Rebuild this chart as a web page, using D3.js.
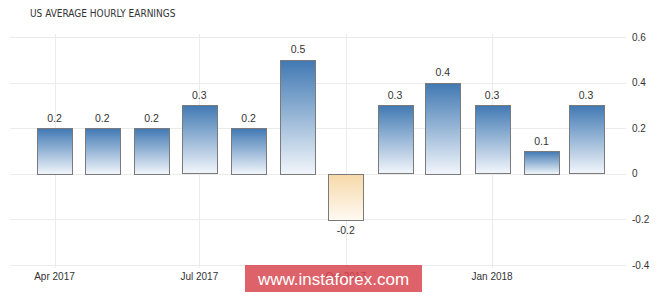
<!DOCTYPE html>
<html><head><meta charset="utf-8">
<script src="https://cdn.jsdelivr.net/npm/d3@7"></script>
<style>body{margin:0;background:#fff;}svg{display:block;}</style>
</head><body>
<script>
const title = "US AVERAGE HOURLY EARNINGS";
const months = ["2017-04","2017-05","2017-06","2017-07","2017-08","2017-09","2017-10","2017-11","2017-12","2018-01","2018-02","2018-03"];
const values = [0.2,0.2,0.2,0.3,0.2,0.5,-0.2,0.3,0.4,0.3,0.1,0.3];
const xTickLabels = ["2017-04","2017-07","2017-10","2018-01"];
const yTicks = [-0.4,-0.2,0,0.2,0.4,0.6];

const W=665,H=296;
const parse=d3.timeParse("%Y-%m");
const svg=d3.select("body").append("svg").attr("width",W).attr("height",H);
const defs=svg.append("defs");
const gb=defs.append("linearGradient").attr("id","gBlue").attr("x1",0).attr("y1",0).attr("x2",0).attr("y2",1);
gb.append("stop").attr("offset","0%").attr("stop-color","#4179b3");
gb.append("stop").attr("offset","100%").attr("stop-color","#f2f6fb");
const go=defs.append("linearGradient").attr("id","gOrange").attr("x1",0).attr("y1",0).attr("x2",0).attr("y2",1);
go.append("stop").attr("offset","0%").attr("stop-color","#f6d9a9");
go.append("stop").attr("offset","100%").attr("stop-color","#fffaf3");

const x=d3.scaleTime().domain([parse("2017-04"),parse("2018-03")]).range([54.5,586]);
const y=d3.scaleLinear().domain([-0.4,0.6]).range([265,37]);
const left=10,right=626;
const num=d=>String(d);

// grid
svg.append("g").selectAll("line").data(yTicks).join("line")
 .attr("x1",left).attr("x2",right).attr("y1",d=>Math.round(y(d))+0.5).attr("y2",d=>Math.round(y(d))+0.5)
 .attr("stroke","#ebebeb").attr("stroke-width",1);
svg.append("g").selectAll("line").data(xTickLabels).join("line")
 .attr("x1",d=>Math.round(x(parse(d)))+0.5).attr("x2",d=>Math.round(x(parse(d)))+0.5)
 .attr("y1",34).attr("y2",268).attr("stroke","#ebebeb");

// y labels
svg.append("g").selectAll("text").data(yTicks).join("text")
 .attr("x",632).attr("y",d=>y(d)).attr("dy","0.35em")
 .attr("font-family","Liberation Sans, Arial, sans-serif").attr("font-size",10).attr("fill","#333")
 .text(num);

// x labels
const fmt=d3.timeFormat("%b %Y");
svg.append("g").selectAll("text").data(xTickLabels).join("text")
 .attr("x",d=>x(parse(d))).attr("y",276).attr("dy","0.35em").attr("text-anchor","middle")
 .attr("font-family","Liberation Sans, Arial, sans-serif").attr("font-size",10).attr("fill","#333")
 .text(d=>fmt(parse(d)));

// bars
const bw=35;
const data=months.map((m,i)=>({d:parse(m),v:values[i]}));
svg.append("g").selectAll("rect").data(data).join("rect")
 .attr("x",d=>Math.round(x(d.d)-bw/2)+0.5).attr("width",bw)
 .attr("y",d=>Math.round(y(Math.max(0,d.v)))+0.5)
 .attr("height",d=>Math.round(Math.abs(y(d.v)-y(0))))
 .attr("fill",d=>d.v>=0?"url(#gBlue)":"url(#gOrange)")
 .attr("stroke","#7a7a7a").attr("stroke-width",1);

svg.append("g").selectAll("text").data(data).join("text")
 .attr("x",d=>x(d.d)).attr("y",d=>d.v>=0?y(d.v)-10:y(d.v)+11).attr("dy","0.35em")
 .attr("text-anchor","middle")
 .attr("font-family","Liberation Sans, Arial, sans-serif").attr("font-size",10.5).attr("fill","#333")
 .text(d=>num(d.v));

// title
svg.append("text").attr("x",30).attr("y",13).attr("dy","0.35em")
 .attr("font-family","DejaVu Sans Condensed, Liberation Sans Narrow, Arial, sans-serif").attr("font-size",10).attr("fill","#333")
 .text(title);

// watermark
svg.append("rect").attr("x",245).attr("y",265).attr("width",177).attr("height",27)
 .attr("fill","#d8474f").attr("opacity",0.85);
svg.append("text").attr("x",333.5).attr("y",279).attr("dy","0.35em").attr("text-anchor","middle")
 .attr("font-family","Liberation Sans, Arial, sans-serif").attr("font-size",17).attr("fill","#fff")
 .text("www.instaforex.com");
</script>
</body></html>
